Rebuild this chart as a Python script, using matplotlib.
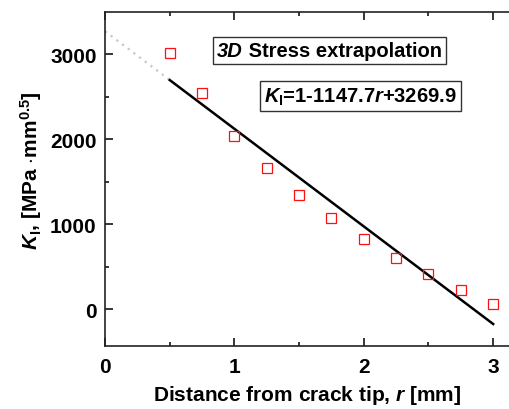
import numpy as np
import matplotlib
matplotlib.use("Agg")
import matplotlib.pyplot as plt
from matplotlib.ticker import MultipleLocator
from matplotlib.offsetbox import TextArea, HPacker, AnnotationBbox

plt.rcParams['font.family'] = ['Liberation Sans', 'DejaVu Sans']
plt.rcParams['font.weight'] = 'bold'
plt.rcParams['mathtext.fontset'] = 'custom'
plt.rcParams['mathtext.rm'] = 'Liberation Sans:bold'
plt.rcParams['mathtext.it'] = 'Liberation Sans:italic:bold'
plt.rcParams['mathtext.bf'] = 'Liberation Sans:bold'

# crack-tip distance [mm] and stress intensity factor K_I [MPa mm^0.5]
r_mm = [0.5, 0.75, 1.0, 1.25, 1.5, 1.75, 2.0, 2.25, 2.5, 2.75, 3.0]
k_vals = [3010, 2540, 2040, 1660, 1340, 1070, 823, 608, 412, 232, 67]

# linear fit K_I = slope*r + intercept
slope = -1147.7
intercept = 3269.9
fit_range = [0.5, 3.0]
extrap_range = [0.0, 0.5]

fig = plt.figure(figsize=(5.1, 4.1), dpi=100)
ax = fig.add_axes([0.206, 0.153, 0.794, 0.815])

r_ext = np.array(extrap_range)
ax.plot(r_ext, slope * r_ext + intercept, color='#c8c8c8', lw=1.6,
        linestyle=(0, (1, 2.2)), zorder=2)
r_fit = np.array(fit_range)
ax.plot(r_fit, slope * r_fit + intercept, color='black', lw=1.8, zorder=3)
ax.plot(r_mm, k_vals, linestyle='none', marker='s', markersize=7,
        markerfacecolor='none', markeredgecolor='#ff1010',
        markeredgewidth=0.9, zorder=4)

ax.set_xlim(0, 3.13)
ax.set_ylim(-435, 3495)
ax.xaxis.set_major_locator(MultipleLocator(1))
ax.xaxis.set_minor_locator(MultipleLocator(0.5))
ax.yaxis.set_major_locator(MultipleLocator(1000))
ax.yaxis.set_minor_locator(MultipleLocator(500))
ax.tick_params(which='both', direction='in', top=True, right=False,
               labelsize=15, width=1.1)
ax.tick_params(axis='x', pad=8)
ax.tick_params(axis='y', pad=6)
ax.tick_params(which='major', length=5.5)
ax.tick_params(which='minor', length=3)
for lab in ax.get_xticklabels() + ax.get_yticklabels():
    lab.set_fontweight('bold')
ax.spines['right'].set_visible(False)
for side in ['left', 'bottom', 'top']:
    ax.spines[side].set_linewidth(1.2)
    ax.spines[side].set_color('#222222')

ax.set_xlabel('Distance from crack tip, $r$ [mm]', fontsize=15,
              fontweight='bold', labelpad=5)
ax.set_ylabel(r'$K_\mathrm{I}$, [MPa $\cdot$mm$^{0.5}$]', fontsize=15,
              fontweight='bold')
ax.yaxis.set_label_coords(-0.15, 0.53)

# framed annotations
frame = dict(boxstyle='square', facecolor='white', edgecolor='#333333', lw=1.0)
title_box = HPacker(children=[
    TextArea('3D', textprops=dict(fontsize=14.5, fontweight='bold', fontstyle='italic')),
    TextArea(' Stress extrapolation', textprops=dict(fontsize=14.5, fontweight='bold')),
], pad=0, sep=0, align='baseline')
ax.add_artist(AnnotationBbox(title_box, (1.735, 3047), frameon=True, pad=0.25,
                             box_alignment=(0.5, 0.5), bboxprops=frame))

eq_box = TextArea(r'$K_\mathrm{I}$=1-1147.7$r$+3269.9',
                  textprops=dict(fontsize=14.5, fontweight='bold'))
ax.add_artist(AnnotationBbox(eq_box, (1.971, 2506), frameon=True, pad=0.3,
                             box_alignment=(0.5, 0.5), bboxprops=frame))

fig.savefig('out.png', dpi=100)
